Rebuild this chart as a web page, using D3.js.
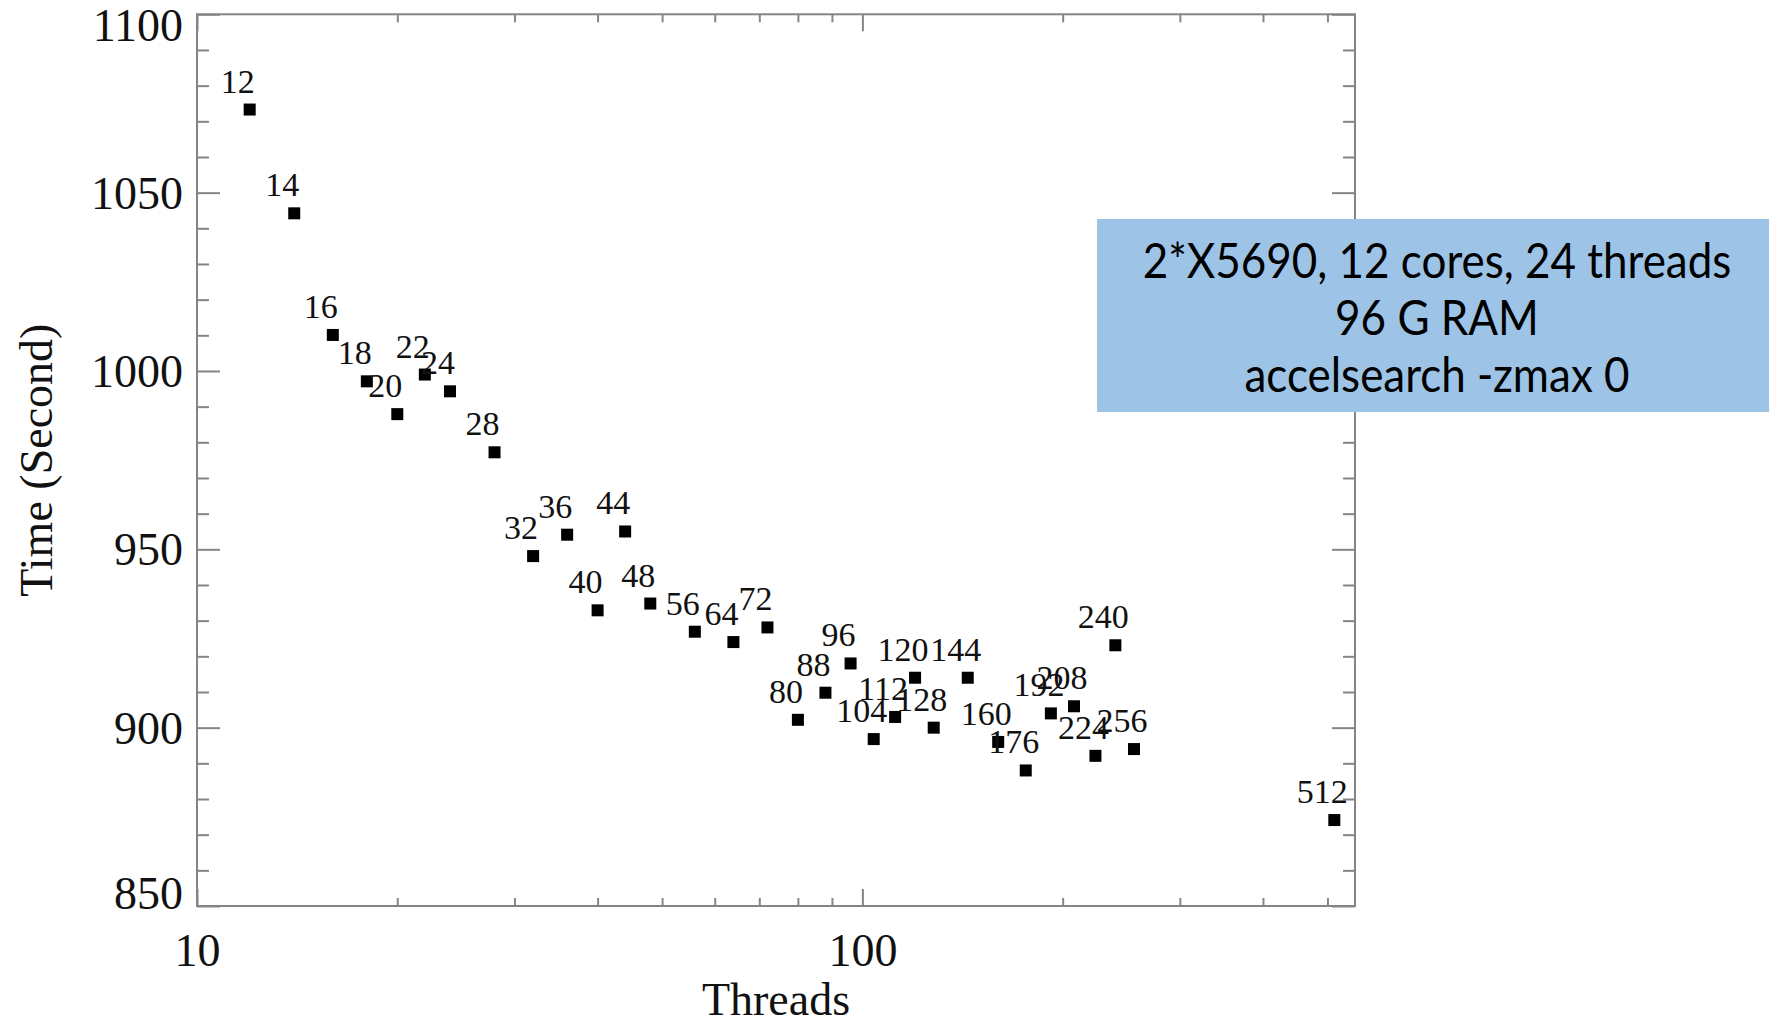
<!DOCTYPE html>
<html>
<head>
<meta charset="utf-8">
<script src="https://cdn.jsdelivr.net/npm/d3@7"></script>
<style>
  body { margin: 0; background: #fff; }
  svg { display: block; }
</style>
</head>
<body>
<svg id="chart" width="1769" height="1022"></svg>
<script>
// threads used for each run, and the wall time it took
var threads = [12, 14, 16, 18, 20, 22, 24, 28, 32, 36, 40, 44, 48, 56, 64, 72,
  80, 88, 96, 104, 112, 120, 128, 144, 160, 176, 192, 208, 224, 240, 256, 512];
var times = [1073.3, 1044.2, 1010.1, 997.1, 987.9, 999.0, 994.3, 977.2, 948.1, 954.1,
  932.9, 955.0, 934.8, 926.9, 924.0, 928.1, 902.2, 909.8, 918.0, 896.8, 903.0, 914.0,
  900.0, 914.0, 896.0, 888.0, 904.0, 906.0, 892.1, 923.1, 894.0, 874.1];

var xDomain = [10, 550];
var yDomain = [850, 1100];
var xMajor = [10, 100];
var xMinor = [20, 30, 40, 50, 60, 70, 80, 90, 200, 300, 400, 500];
var yMajor = [850, 900, 950, 1000, 1050, 1100];

var boxLines = ["2*X5690, 12 cores, 24 threads", "96 G RAM", "accelsearch -zmax 0"];

var serif = "'Liberation Serif', 'Times New Roman', serif";
var axisColor = "#858585";
var plotLeft = 197, plotRight = 1355, plotTop = 14.3, plotBottom = 906;

var svg = d3.select("#chart");

var x = d3.scaleLog().domain(xDomain).range([plotLeft, plotRight]);
var y = d3.scaleLinear().domain(yDomain).range([plotBottom, plotTop]);

var yMinor = d3.range(860, 1100, 10).filter(function(d) { return d % 50 !== 0; });

function styleAxis(g) {
  g.select(".domain").remove();
  g.selectAll("line").attr("stroke", axisColor).attr("stroke-width", 2);
}

function noLabels(g) {
  g.selectAll("text").remove();
}

// frame
svg.append("rect")
  .attr("x", plotLeft)
  .attr("y", plotTop)
  .attr("width", plotRight - plotLeft)
  .attr("height", plotBottom - plotTop)
  .attr("fill", "none")
  .attr("stroke", axisColor)
  .attr("stroke-width", 2);

// bottom axis
svg.append("g")
  .attr("transform", "translate(0," + plotBottom + ")")
  .call(d3.axisBottom(x).tickValues(xMinor).tickSize(-8).tickSizeOuter(0))
  .call(styleAxis)
  .call(noLabels);

svg.append("g")
  .attr("transform", "translate(0," + plotBottom + ")")
  .call(d3.axisBottom(x).tickValues(xMajor).tickSize(-17).tickSizeOuter(0).tickFormat(d3.format("d")))
  .call(styleAxis)
  .call(function(g) {
    g.selectAll("text")
      .attr("y", 60)
      .attr("dy", null)
      .attr("font-family", serif)
      .attr("font-size", 46)
      .attr("fill", "#111");
  });

// top axis
svg.append("g")
  .attr("transform", "translate(0," + plotTop + ")")
  .call(d3.axisTop(x).tickValues(xMinor).tickSize(-8).tickSizeOuter(0))
  .call(styleAxis)
  .call(noLabels);

svg.append("g")
  .attr("transform", "translate(0," + plotTop + ")")
  .call(d3.axisTop(x).tickValues(xMajor).tickSize(-17).tickSizeOuter(0))
  .call(styleAxis)
  .call(noLabels);

// left axis
svg.append("g")
  .attr("transform", "translate(" + plotLeft + ",0)")
  .call(d3.axisLeft(y).tickValues(yMinor).tickSize(-12).tickSizeOuter(0))
  .call(styleAxis)
  .call(noLabels);

svg.append("g")
  .attr("transform", "translate(" + plotLeft + ",0)")
  .call(d3.axisLeft(y).tickValues(yMajor).tickSize(-23).tickSizeOuter(0).tickFormat(d3.format("d")))
  .call(styleAxis)
  .call(function(g) {
    g.selectAll("text")
      .attr("x", -14)
      .attr("dy", function(d) {
        // end labels sit inside the frame, like the original
        if (d === 1100) return 26;
        if (d === 850) return 2;
        return 15.5;
      })
      .attr("font-family", serif)
      .attr("font-size", 46)
      .attr("fill", "#111");
  });

// right axis
svg.append("g")
  .attr("transform", "translate(" + plotRight + ",0)")
  .call(d3.axisRight(y).tickValues(yMinor).tickSize(-12).tickSizeOuter(0))
  .call(styleAxis)
  .call(noLabels);

svg.append("g")
  .attr("transform", "translate(" + plotRight + ",0)")
  .call(d3.axisRight(y).tickValues(yMajor).tickSize(-23).tickSizeOuter(0))
  .call(styleAxis)
  .call(noLabels);

// axis titles
svg.append("text")
  .attr("x", (plotLeft + plotRight) / 2)
  .attr("y", 1015)
  .attr("text-anchor", "middle")
  .attr("font-family", serif)
  .attr("font-size", 46)
  .attr("fill", "#111")
  .text("Threads");

svg.append("text")
  .attr("transform", "translate(52," + (plotTop + plotBottom) / 2 + ") rotate(-90)")
  .attr("text-anchor", "middle")
  .attr("font-family", serif)
  .attr("font-size", 46)
  .attr("fill", "#111")
  .text("Time (Second)");

// points
var points = threads.map(function(t, i) { return { threads: t, time: times[i] }; });

svg.append("g")
  .selectAll("rect")
  .data(points)
  .join("rect")
  .attr("x", function(d) { return x(d.threads) - 6; })
  .attr("y", function(d) { return y(d.time) - 6; })
  .attr("width", 12)
  .attr("height", 12)
  .attr("fill", "#000");

svg.append("g")
  .selectAll("text")
  .data(points)
  .join("text")
  .attr("x", function(d) { return x(d.threads) - 12; })
  .attr("y", function(d) { return y(d.time) - 17; })
  .attr("text-anchor", "middle")
  .attr("font-family", serif)
  .attr("font-size", 34)
  .attr("fill", "#111")
  .text(function(d) { return d.threads; });

// info box, drawn over the right axis
var box = svg.append("g");
box.append("rect")
  .attr("x", 1097)
  .attr("y", 219)
  .attr("width", 1769 - 1097)
  .attr("height", 193)
  .attr("fill", "#9dc3e6");

var boxText = box.selectAll("text")
  .data(boxLines)
  .join("text")
  .attr("text-anchor", "middle")
  .attr("font-family", "Lato, 'Open Sans', sans-serif")
  .attr("font-size", 48)
  .attr("fill", "#000")
  .text(function(d) { return d; });

// squeeze the sans text to roughly the narrower original face
var firstWidth = boxText.node().getComputedTextLength();
var squeeze = Math.min(1, 589 / firstWidth);
boxText.attr("transform", function(d, i) {
  return "translate(1437," + (278 + i * 57) + ") scale(" + squeeze + ",1)";
});
</script>
</body>
</html>
